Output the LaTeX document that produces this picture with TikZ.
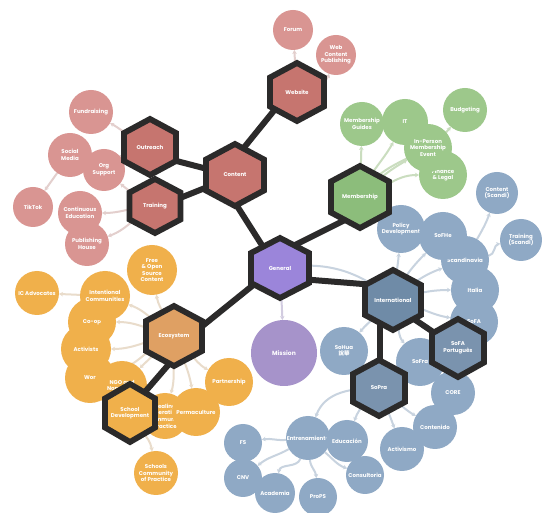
\documentclass[tikz,border=0pt]{standalone}
\usepackage{fontspec}
\setmainfont{Poppins}
\newfontfamily\cjk{Noto Sans CJK TC}
\usetikzlibrary{arrows.meta,calc}

\definecolor{hexdark}{HTML}{2B2A2A}
\definecolor{rose}{HTML}{D99592}
\definecolor{rosehex}{HTML}{C6756F}
\definecolor{sage}{HTML}{9DC88B}
\definecolor{sagehex}{HTML}{8CBD7B}
\definecolor{steel}{HTML}{8FA9C5}
\definecolor{steelhex}{HTML}{6F8BA7}
\definecolor{steelhexb}{HTML}{7A93AE}
\definecolor{lilac}{HTML}{A693CA}
\definecolor{lilachex}{HTML}{9B85DA}
\definecolor{amber}{HTML}{F0B04B}
\definecolor{amberhex}{HTML}{DFA063}
\definecolor{rosewire}{HTML}{E3CFCD}
\definecolor{sagewire}{HTML}{CADDBF}
\definecolor{steelwire}{HTML}{C8D3DF}
\definecolor{lilacwire}{HTML}{D2CCE0}
\definecolor{amberwire}{HTML}{E9DCCB}

\pgfdeclarelayer{bg}
\pgfdeclarelayer{conn}
\pgfdeclarelayer{links}
\pgfdeclarelayer{hexes}
\pgfsetlayers{bg,conn,main,links,hexes}

% hexagon hub: name, x, y (downwards), width, height, fill, label
\newcommand\myhex[7]{%
  \coordinate (#1) at (#2,-#3);
  \begin{pgfonlayer}{hexes}
    \filldraw[hexline, fill=#6, shift={(#2,-#3)}]
      (0,#5/2) -- (#4/2,#5/4) -- (#4/2,-#5/4) -- (0,-#5/2)
      -- (-#4/2,-#5/4) -- (-#4/2,#5/4) -- cycle;
    \node[lbl] at (#1) {#7};
  \end{pgfonlayer}}

% round topic: name, x, y (downwards), radius, fill, label
\newcommand\mybub[6]{%
  \node[bubble, fill=#5, minimum size=2*#4] (#1) at (#2,-#3) {};
  \node[lbl] at (#1) {#6};}

\begin{document}
\begin{tikzpicture}[x=1pt,y=1pt,
  lbl/.style={text=white, font=\bfseries\fontsize{5.5}{6.6}\selectfont,
    align=center, inner sep=0pt},
  bubble/.style={circle, inner sep=0pt, outer sep=0pt, draw=none},
  hexline/.style={draw=hexdark, line width=5.8pt, line join=miter},
  link/.style={draw=hexdark, line width=6pt},
  wire/.style={draw=#1, line width=2pt},
  feed/.style={wire=#1, -{Stealth[length=4pt,width=4.5pt]}}]

\begin{pgfonlayer}{bg}
  \fill[white] (0,0) rectangle (542,-513);
\end{pgfonlayer}
\path[use as bounding box] (0,0) rectangle (542,-513);

% ---- hubs ----
\myhex{web}{297}{92}{54}{58}{rosehex}{Website}
\myhex{content}{235}{175}{58}{62}{rosehex}{Content}
\myhex{outreach}{150}{147}{52}{56}{rosehex}{Outreach}
\myhex{training}{155}{206}{51}{54}{rosehex}{Training}
\myhex{memb}{360}{197}{58}{62}{sagehex}{Membership}
\myhex{general}{280}{268}{58}{60}{lilachex}{General}
\myhex{intl}{393}{300}{56}{60}{steelhex}{International}
\myhex{sopra}{379}{388}{52}{56}{steelhexb}{SoPra}
\myhex{sofapt}{458}{348}{52}{58}{steelhexb}{SoFA\\Português}
\myhex{eco}{174}{336}{56}{60}{amberhex}{Ecosystem}
\myhex{school}{130}{413}{50}{58}{amber}{School\\Development}

% ---- content topics ----
\mybub{forum}{293}{30}{20}{rose}{Forum}
\mybub{wcp}{336}{55}{20}{rose}{Web\\Content\\Publishing}
\mybub{fund}{91}{112}{22}{rose}{Fundraising}
\mybub{social}{70}{155}{22}{rose}{Social\\Media}
\mybub{org}{104}{170}{21}{rose}{Org\\Support}
\mybub{tiktok}{33}{207}{20}{rose}{TikTok}
\mybub{conted}{80}{213}{22}{rose}{Continuous\\Education}
\mybub{pubhouse}{87}{244}{22}{rose}{Publishing\\House}

% ---- membership topics ----
\mybub{mguides}{362}{124}{22}{sage}{Membership\\Guides}
\mybub{it}{405}{122}{23}{sage}{IT}
\mybub{budget}{465}{110}{22}{sage}{Budgeting}
\mybub{finance}{443}{175}{24}{sage}{Finance\\\& Legal}
\mybub{inperson}{428}{148}{24}{sage}{In-Person\\Membership\\Event}

% ---- international topics ----
\mybub{contscandi}{497}{193}{21}{steel}{Content\\(Scandi)}
\mybub{trainscandi}{521}{240}{21}{steel}{Training\\(Scandi)}
\mybub{scandi}{465}{260}{24}{steel}{Scandinavia}
\mybub{policy}{401}{229}{24}{steel}{Policy\\Development}
\mybub{sofhe}{443}{236}{24}{steel}{SoFHe}
\mybub{italia}{475}{290}{24}{steel}{Italia}
\mybub{sofa}{474}{322}{24}{steel}{SoFA}
\mybub{sofra}{420}{362}{24}{steel}{SoFra}
\mybub{sohua}{344}{351}{24}{steel}{SoHua\\{\cjk 說華}}
\mybub{core}{453}{393}{22}{steel}{CORE}
\mybub{activismo}{402}{449}{22}{steel}{Activismo}
\mybub{contenido}{435}{427}{22}{steel}{Contenido}
\mybub{entren}{308}{438}{22}{steel}{Entrenamiento}
\mybub{educ}{347}{441}{21}{steel}{Educación}
\mybub{consult}{365}{475}{19}{steel}{Consultoria}
\mybub{fs}{243}{443}{19}{steel}{FS}
\mybub{cnv}{243}{478}{19}{steel}{CNV}
\mybub{academia}{275}{493}{20}{steel}{Academia}
\mybub{props}{318}{497}{19}{steel}{ProPS}

% ---- general ----
\mybub{mission}{284}{353}{33}{lilac}{\fontsize{6}{7}\selectfont Mission}

% ---- ecosystem topics ----
\mybub{foss}{152}{270}{25}{amber}{Free\\\& Open\\Source\\Content}
\mybub{icadv}{37}{293}{22}{amber}{IC Advocates}
\mybub{wor}{90}{378}{25}{amber}{Wor}
\mybub{activists}{86}{349}{25}{amber}{Activists}
\mybub{coop}{92}{322}{24}{amber}{Co-op}
\mybub{intcomm}{105}{296}{25}{amber}{Intentional\\Communities}
\mybub{ngo}{122}{386}{25}{amber}{NGO and\\Nonprofits}
\mybub{partner}{229}{382}{24}{amber}{Partnership}
\mybub{heal}{165}{416}{23}{amber}{Healing\\Liberation\\Community\\Practice}
\mybub{perma}{196}{412}{24}{amber}{Permaculture}
\mybub{scp}{156}{473}{22}{amber}{Schools\\Community\\of Practice}

% ---- light connectors ----
\begin{pgfonlayer}{conn}
  \draw[feed=rosewire] (web) -- (forum);
  \draw[feed=rosewire] (web) to[out=45,in=-110] (wcp);
  \draw[feed=rosewire] (outreach) to[out=160,in=-30] (fund);
  \draw[feed=rosewire] (outreach) to[out=190,in=-10] (social);
  \draw[feed=rosewire] (training) to[out=150,in=-40] (org);
  \draw[feed=rosewire] (training) to[out=180,in=0] (conted);
  \draw[feed=rosewire] (training) to[out=205,in=20] (pubhouse);
  \draw[feed=rosewire] (social) -- (tiktok);

  \draw[feed=sagewire] (memb) -- (mguides);
  \draw[feed=sagewire] (memb) to[out=70,in=-120] (it);
  \draw[feed=sagewire] (memb) to[out=45,in=-150] (inperson);
  \draw[feed=sagewire] (memb) to[out=15,in=180] (finance);
  \draw[feed=sagewire] (memb) to[out=60,in=-130] (budget);

  \draw[wire=steelwire] (general) to[bend left=25] (intl);
  \draw[feed=lilacwire] (general) -- (mission);
  \draw[feed=steelwire] (intl) to[out=85,in=-95] (policy);
  \draw[feed=steelwire] (intl) to[out=65,in=-135] (sofhe);
  \draw[feed=steelwire] (intl) to[out=40,in=-160] (scandi);
  \draw[feed=steelwire] (intl) to[out=15,in=180] (italia);
  \draw[feed=steelwire] (intl) to[out=-10,in=170] (sofa);
  \draw[feed=steelwire] (intl) to[out=-50,in=130] (sofra);
  \draw[feed=steelwire] (intl) to[out=-130,in=50] (sohua);
  \draw[feed=steelwire] (scandi) to[out=60,in=-110] (contscandi);
  \draw[feed=steelwire] (scandi) to[out=10,in=190] (trainscandi);
  \draw[feed=steelwire] (sofapt) -- (core);
  \draw[feed=steelwire] (sopra) to[out=180,in=70] (entren);
  \draw[feed=steelwire] (sopra) to[out=-130,in=70] (educ);
  \draw[feed=steelwire] (sopra) to[out=-70,in=110] (activismo);
  \draw[feed=steelwire] (sopra) to[out=-30,in=150] (contenido);
  \draw[feed=steelwire] (entren) to[out=-40,in=160] (consult);
  \draw[feed=steelwire] (entren) to[out=185,in=10] (fs);
  \draw[feed=steelwire] (entren) to[out=210,in=40] (cnv);
  \draw[feed=steelwire] (entren) to[out=-110,in=80] (academia);
  \draw[feed=steelwire] (entren) to[out=-85,in=95] (props);

  \draw[feed=amberwire] (eco) to[out=100,in=-80] (foss);
  \draw[feed=amberwire] (eco) to[out=150,in=-20] (intcomm);
  \draw[feed=amberwire] (eco) to[out=170,in=0] (coop);
  \draw[feed=amberwire] (eco) to[out=185,in=0] (activists);
  \draw[feed=amberwire] (eco) to[out=200,in=15] (wor);
  \draw[feed=amberwire] (eco) to[out=225,in=45] (ngo);
  \draw[feed=amberwire] (eco) to[out=-100,in=75] (heal);
  \draw[feed=amberwire] (eco) to[out=-70,in=100] (perma);
  \draw[feed=amberwire] (eco) to[out=-35,in=150] (partner);
  \draw[feed=amberwire] (intcomm) -- (icadv);
  \draw[feed=amberwire] (school) to[out=-70,in=100] (scp);
\end{pgfonlayer}

% ---- dark hub links ----
\begin{pgfonlayer}{links}
  \draw[link] ($(web)+(-12,-5)$) -- ($(content)+(3,20)$);
  \draw[link] ($(outreach)+(15,-11)$) -- ($(content)+(-20,4)$);
  \draw[link] ($(training)+(15,4)$) -- ($(content)+(-20,-9)$);
  \draw[link] ($(content)+(-3,-23)$) -- ($(general)+(-15,18)$);
  \draw[link] ($(general)+(15,23)$) -- ($(memb)+(-15,-23)$);
  \draw[link] ($(general)+(20,-11)$) -- ($(intl)+(-18,15)$);
  \draw[link] ($(general)+(-18,-10)$) -- ($(eco)+(21,4)$);
  \draw[link] ($(eco)+(2,-20)$) -- ($(school)+(8,13)$);
  \draw[link] ($(intl)+(-13,-15)$) -- ($(sopra)+(1,13)$);
  \draw[link] ($(intl)+(12,-13)$) -- ($(sofapt)+(-13,8)$);
\end{pgfonlayer}
\end{tikzpicture}
\end{document}
